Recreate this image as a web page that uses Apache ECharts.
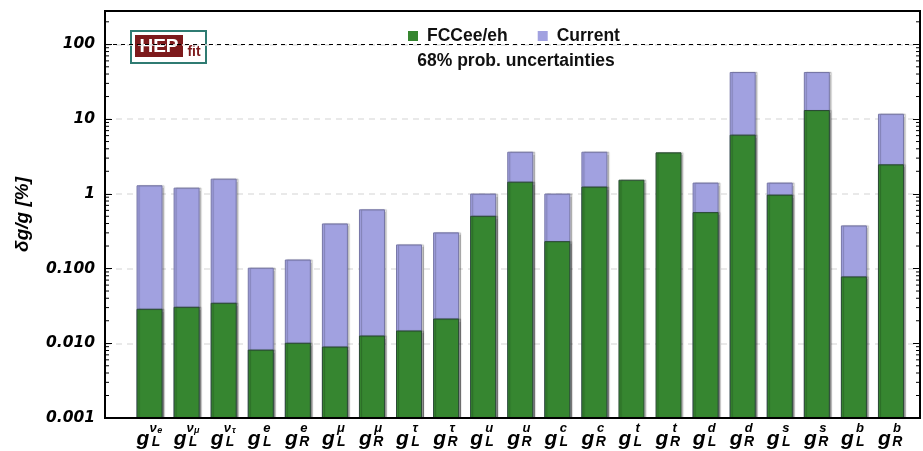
<!DOCTYPE html>
<html>
<head>
<meta charset="utf-8">
<script src="https://cdn.jsdelivr.net/npm/echarts@6/dist/echarts.min.js"></script>
<style>
  html, body { margin: 0; padding: 0; background: #fff; }
  #chart { width: 923px; height: 451px; }
</style>
</head>
<body>
<div id="chart"></div>
<script>
// Couplings: flavour (superscript) and chirality (subscript)
const flavours  = ['νe','νμ','ντ','e','e','μ','μ','τ','τ','u','u','c','c','t','t','d','d','s','s','b','b'];
const chirality = ['L','L','L','L','R','L','R','L','R','L','R','L','R','L','R','L','R','L','R','L','R'];
const categories = flavours.map((f, i) => 'g_' + chirality[i] + '^' + f);

// Relative uncertainties in %, 68% probability
const fccValues     = [0.0285, 0.0303, 0.0343, 0.0081, 0.0100, 0.0089, 0.0125, 0.0146, 0.0211, 0.50, 1.43, 0.229, 1.23, 1.52, 3.53, 0.56, 6.09, 0.96, 13.0, 0.0772, 2.44];
const currentValues = [1.28, 1.19, 1.57, 0.101, 0.130, 0.395, 0.61, 0.207, 0.30, 0.99, 3.6, 0.99, 3.6, null, null, 1.39, 42, 1.39, 42, 0.372, 11.6];

// Y axis
const yMin = 0.001, yMax = 279;
const yTickLabels = ['0.001', '0.010', '0.100', '1', '10', '100'];
const refLine = 100;

const GREEN = '#368630', PURPLE = '#a1a1e0';
const FONT = 'Liberation Sans';
const BAR_W = 25;

// minor tick positions 2..9 x 10^k on the log axis
const minorTicks = [];
for (let d = -3; d <= 2; d++) {
  for (let m = 2; m <= 9; m++) {
    const v = m * Math.pow(10, d);
    if (v < yMax) minorTicks.push([0.5, v]);
  }
}

function tickLabel(v) {
  const e = Math.log10(v);
  const r = Math.round(e);
  if (Math.abs(e - r) > 1e-6 || r < -3 || r > 2) return '';
  return yTickLabels[r + 3];
}

function catLabel(value, idx) {
  const f = flavours[idx];
  let sup;
  if (f.length === 2) sup = '{nu|' + f[0] + '}{nus|' + f[1] + '}';
  else sup = '{sup|' + f + '}';
  return '{gh|g}' + sup + '\n{g|g}{sub|' + chirality[idx] + '}';
}

// bars drawn from the bottom of the log axis up to their value
function barRenderer(fill, stroke) {
  return function (params, api) {
    const v = api.value(1);
    if (v == null || isNaN(v)) return null;
    const top = api.coord([api.value(0), v]);
    const bot = api.coord([api.value(0), yMin]);
    return {
      type: 'rect',
      shape: { x: top[0] - BAR_W / 2, y: top[1], width: BAR_W, height: bot[1] - top[1] },
      style: { fill: fill, stroke: stroke, lineWidth: 1, shadowColor: 'rgba(0,0,0,0.22)', shadowOffsetX: 2, shadowBlur: 1 }
    };
  };
}

const labelFont = { fontFamily: FONT, fontWeight: 'bold', fontStyle: 'italic', color: '#000' };

const chart = echarts.init(document.getElementById('chart'), null, { renderer: 'canvas' });

const frame = { left: 105, top: 11, right: 3, bottom: 33 };
const barsGrid = { left: 131, top: 11, right: 13.5, bottom: 33 };

chart.setOption({
  animation: false,
  backgroundColor: '#fff',
  grid: [
    Object.assign({ show: true, borderColor: '#000', borderWidth: 2, backgroundColor: 'transparent', z: 5 }, frame),
    Object.assign({ show: false }, barsGrid)
  ],
  legend: {
    data: ['FCCee/eh', 'Current'],
    left: 403, top: 22,
    itemWidth: 10, itemHeight: 10, itemGap: 30,
    icon: 'rect',
    itemStyle: { borderWidth: 0 },
    textStyle: { fontFamily: FONT, fontWeight: 'bold', fontSize: 17.5, color: '#111', padding: [0, 0, 0, 4] }
  },
  xAxis: [
    { type: 'value', gridIndex: 0, min: 0, max: 1, show: false },
    {
      type: 'category', gridIndex: 1, data: categories,
      axisLine: { show: false },
      axisTick: { show: true, inside: true, alignWithLabel: true, length: 3, lineStyle: { color: '#000', width: 1.5 } },
      axisLabel: {
        margin: 8,
        interval: 0,
        formatter: catLabel,
        rich: {
          gh:  Object.assign({}, labelFont, { fontSize: 20, color: 'transparent', lineHeight: 5 }),
          sup: Object.assign({}, labelFont, { fontSize: 13, lineHeight: 5, width: 13, align: 'left' }),
          nu:  Object.assign({}, labelFont, { fontSize: 13, lineHeight: 5, width: 8, align: 'left' }),
          nus: Object.assign({}, labelFont, { fontSize: 9, lineHeight: 5, width: 5, align: 'left', padding: [5, 0, 0, 0] }),
          g:   Object.assign({}, labelFont, { fontSize: 21, lineHeight: 17 }),
          sub: Object.assign({}, labelFont, { fontSize: 14, lineHeight: 17, width: 13, align: 'left', padding: [6, 0, 0, 0] })
        }
      }
    }
  ],
  yAxis: [
    {
      type: 'log', logBase: 10, gridIndex: 0, min: yMin, max: yMax,
      name: 'δg/g [%]', nameLocation: 'middle', nameGap: 73, nameRotate: 90,
      nameTextStyle: { fontFamily: FONT, fontWeight: 'bold', fontStyle: 'italic', fontSize: 19, color: '#000' },
      axisLine: { show: false },
      axisTick: { show: true, inside: true, length: 7, lineStyle: { color: '#000', width: 1 } },
      axisLabel: {
        formatter: tickLabel, showMaxLabel: false, margin: 10,
        fontFamily: 'DejaVu Sans', fontWeight: 'bold', fontStyle: 'italic', fontSize: 15.5, color: '#000'
      },
      splitLine: { show: true, lineStyle: { color: '#e2e2e2', type: [6, 5], width: 1.5 } }
    },
    {
      type: 'log', logBase: 10, gridIndex: 0, min: yMin, max: yMax, position: 'right',
      axisLine: { show: false },
      axisTick: { show: true, inside: true, length: 7, lineStyle: { color: '#000', width: 1 } },
      axisLabel: { show: false },
      splitLine: { show: false }
    },
    {
      type: 'log', logBase: 10, gridIndex: 1, min: yMin, max: yMax, show: false,
      splitLine: { show: false }
    }
  ],
  series: [
    {
      name: 'minorTicks', type: 'custom', xAxisIndex: 0, yAxisIndex: 0,
      silent: true, z: 6,
      data: minorTicks,
      renderItem: function (params, api) {
        const cs = params.coordSys;
        const y = api.coord([api.value(0), api.value(1)])[1];
        const st = { stroke: '#000', lineWidth: 1 };
        return {
          type: 'group',
          children: [
            { type: 'line', shape: { x1: cs.x, y1: y, x2: cs.x + 4, y2: y }, style: st },
            { type: 'line', shape: { x1: cs.x + cs.width - 4, y1: y, x2: cs.x + cs.width, y2: y }, style: st }
          ]
        };
      },
      markLine: {
        silent: true, symbol: 'none', label: { show: false },
        lineStyle: { color: '#000', type: [4, 4], width: 1 },
        data: [{ yAxis: refLine }]
      }
    },
    {
      name: 'Current', type: 'custom', xAxisIndex: 1, yAxisIndex: 2, z: 2,
      data: currentValues.map((v, i) => [i, v]),
      itemStyle: { color: PURPLE },
      renderItem: barRenderer(PURPLE, '#7676a6')
    },
    {
      name: 'FCCee/eh', type: 'custom', xAxisIndex: 1, yAxisIndex: 2, z: 3,
      data: fccValues.map((v, i) => [i, v]),
      itemStyle: { color: GREEN },
      renderItem: barRenderer(GREEN, '#2b4a34')
    }
  ],
  graphic: [
    {
      type: 'text', x: 516, y: 61, z: 10,
      style: { text: '68% prob. uncertainties', fontFamily: FONT, fontWeight: 'bold', fontSize: 17.5, fill: '#111', align: 'center', verticalAlign: 'middle' }
    },
    {
      type: 'group', x: 131, y: 31, z: 10,
      children: [
        { type: 'rect', shape: { x: 0, y: 0, width: 75, height: 32 }, style: { fill: '#fff', stroke: '#2f7b72', lineWidth: 2 } },
        { type: 'rect', shape: { x: 4, y: 4, width: 48, height: 22 }, style: { fill: '#7d1a1c' } },
        { type: 'text', style: { x: 28, y: 16, text: 'HEP', fontFamily: FONT, fontWeight: 'bold', fontSize: 19, fill: '#fff', align: 'center', verticalAlign: 'middle' } },
        { type: 'text', style: { x: 63, y: 21, text: 'fit', fontFamily: FONT, fontWeight: 'bold', fontSize: 14, fill: '#7d1a1c', align: 'center', verticalAlign: 'middle' } }
      ]
    }
  ]
});
</script>
</body>
</html>
